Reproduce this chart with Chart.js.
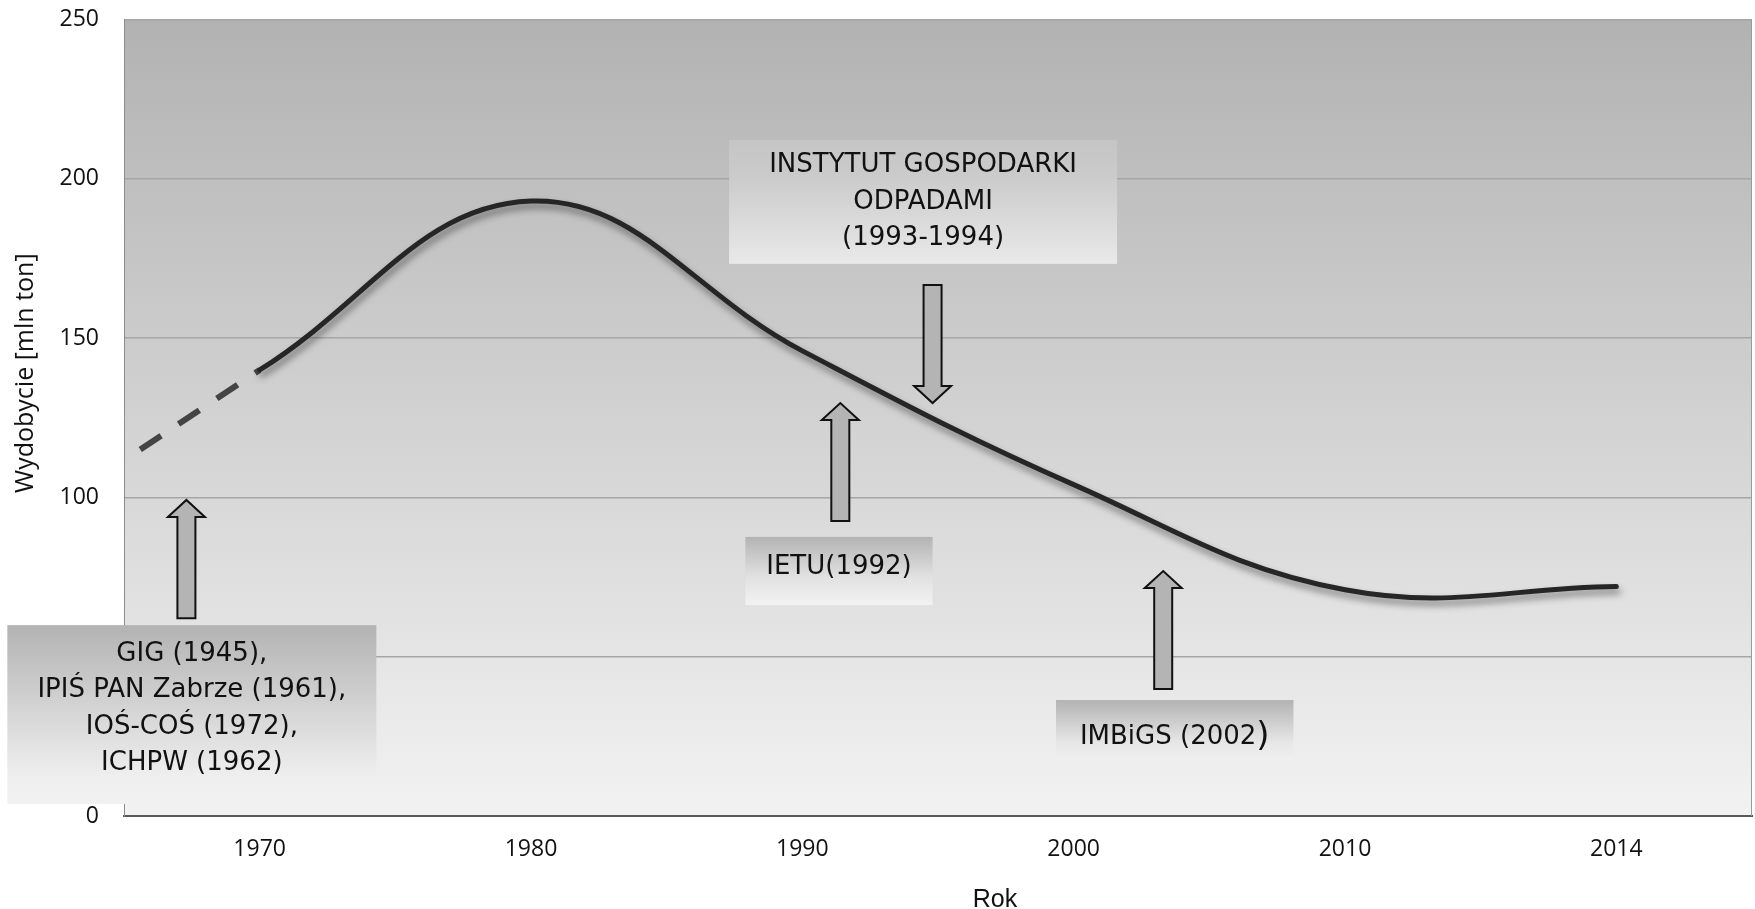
<!DOCTYPE html>
<html lang="pl">
<head>
<meta charset="utf-8">
<title>Wydobycie</title>
<script src="https://cdn.jsdelivr.net/npm/chart.js@4.4.1/dist/chart.umd.min.js"></script>
<style>
  html, body { margin: 0; padding: 0; background: #fff; }
  #wrap { width: 1755px; height: 909px; position: relative; }
</style>
</head>
<body>
<div id="wrap"><canvas id="wykres"></canvas></div>
<script>
// --- DANE ---
const lata = ['1970', '1980', '1990', '2000', '2010', '2014'];
const rokLiczbowo = [1970, 1980, 1990, 2000, 2010, 2014];
const wydobycie = [140, 193, 146, 104, 71, 72];          // mln ton
const lataPrzerywana = [1965.6, 1970];                   // odcinek szacowany (linia przerywana)
const wydobyciePrzerywana = [115, 140];

// --- OPISY I STRZAŁKI (w jednostkach osi: rok / mln ton) ---
// linia = tekst albo lista fragmentów [tekst, rozmiar czcionki]
const opisy = [
    { linie: ['GIG (1945),', 'IPIŚ PAN Zabrze (1961),', 'IOŚ-COŚ (1972),', 'ICHPW (1962)'],
      od: 1960.7, do: 1974.3, gora: 59.9, dol: 3.8, dy: -6,
      gradient: [[0, '#b3b3b3'], [0.85, '#efefef'], [1, '#f1f1f1']] },
    { linie: ['INSTYTUT GOSPODARKI', 'ODPADAMI', '(1993-1994)'],
      od: 1987.3, do: 2001.6, gora: 212.2, dol: 173.3, dy: 0,
      gradient: [[0, '#c5c5c5'], [0.3, '#cbcbcb'], [1, '#e9e9e9']] },
    { linie: ['IETU(1992)'],
      od: 1987.9, do: 1994.8, gora: 87.6, dol: 66.2, dy: -4,
      gradient: [[0, '#b3b3b3'], [0.6, '#e2e2e2'], [1, '#f2f2f2']] },
    { linie: [[['IMBiGS (2002', 26], [')', 34]]],
      od: 1999.35, do: 2008.1, gora: 36.4, dol: 17.6, dy: 7,
      gradient: [[0, '#b3b3b3'], [0.7, '#e6e6e6'], [1, '#f0f0f0']] }
];
const strzalki = [
    { rok: 1967.3, z: 62.1, na: 99.2 },
    { rok: 1994.8, z: 166.7, na: 129.6 },
    { rok: 1991.4, z: 92.6, na: 129.6 },
    { rok: 2003.3, z: 39.9, na: 76.9 }
];

// rok -> pozycja na osi kategorii (równe odstępy między etykietami)
function rokNaPozycje(rok) {
    const n = rokLiczbowo.length;
    if (rok <= rokLiczbowo[0]) return (rok - rokLiczbowo[0]) / (rokLiczbowo[1] - rokLiczbowo[0]);
    for (let i = 1; i < n; i++) {
        if (rok <= rokLiczbowo[i] || i === n - 1) {
            return i - 1 + (rok - rokLiczbowo[i - 1]) / (rokLiczbowo[i] - rokLiczbowo[i - 1]);
        }
    }
}

const FONT_OSI = { family: '"Open Sans", sans-serif', size: 23 };
const FONT_OPISU = '"DejaVu Sans"';

// --- PLUGINY ---
const tloWykresu = {
    id: 'tloWykresu',
    beforeDraw(chart) {
        const { ctx, chartArea: a } = chart;
        const g = ctx.createLinearGradient(0, a.top, 0, a.bottom);
        g.addColorStop(0, '#b2b2b2');
        g.addColorStop(1, '#f2f2f2');
        ctx.save();
        ctx.fillStyle = g;
        ctx.fillRect(a.left, a.top, a.right - a.left, a.bottom - a.top);
        ctx.restore();
    }
};

const cienLinii = {
    id: 'cienLinii',
    beforeDatasetDraw(chart, args) {
        if (args.index !== 0) return;
        const ctx = chart.ctx;
        ctx.save();
        ctx.shadowColor = 'rgba(0,0,0,0.45)';
        ctx.shadowBlur = 7;
        ctx.shadowOffsetX = 2;
        ctx.shadowOffsetY = 5;
    },
    afterDatasetDraw(chart, args) {
        if (args.index === 0) chart.ctx.restore();
    }
};

function rysujLinieTekstu(ctx, linia, cx, y) {
    const czesci = typeof linia === 'string' ? [[linia, 26]] : linia;
    let szer = 0;
    czesci.forEach(([t, r]) => { ctx.font = r + 'px ' + FONT_OPISU; szer += ctx.measureText(t).width; });
    let x = cx - szer / 2;
    ctx.textAlign = 'left';
    czesci.forEach(([t, r]) => {
        ctx.font = r + 'px ' + FONT_OPISU;
        ctx.fillText(t, x, y);
        x += ctx.measureText(t).width;
    });
}

function rysujOpis(ctx, sx, sy, o) {
    const x1 = sx.getPixelForValue(rokNaPozycje(o.od));
    const x2 = sx.getPixelForValue(rokNaPozycje(o.do));
    const y1 = sy.getPixelForValue(o.gora);
    const y2 = sy.getPixelForValue(o.dol);
    const g = ctx.createLinearGradient(0, y1, 0, y2);
    o.gradient.forEach(([s, c]) => g.addColorStop(s, c));
    ctx.fillStyle = g;
    ctx.fillRect(x1, y1, x2 - x1, y2 - y1);

    ctx.fillStyle = '#111';
    ctx.textBaseline = 'middle';
    const cx = (x1 + x2) / 2, cy = (y1 + y2) / 2 + o.dy, lh = 36.5;
    o.linie.forEach((t, i) => rysujLinieTekstu(ctx, t, cx, cy + (i - (o.linie.length - 1) / 2) * lh));
}

function rysujStrzalke(ctx, sx, sy, s) {
    const x = sx.getPixelForValue(rokNaPozycje(s.rok));
    const yz = sy.getPixelForValue(s.z), yn = sy.getPixelForValue(s.na);
    const kier = Math.sign(yn - yz);
    const glowa = 17, trzon = 9, szer = 18.5;
    const yb = yn - kier * glowa;
    ctx.beginPath();
    ctx.moveTo(x - trzon, yz);
    ctx.lineTo(x - trzon, yb);
    ctx.lineTo(x - szer, yb);
    ctx.lineTo(x, yn);
    ctx.lineTo(x + szer, yb);
    ctx.lineTo(x + trzon, yb);
    ctx.lineTo(x + trzon, yz);
    ctx.closePath();
    ctx.fillStyle = '#b4b4b4';
    ctx.fill();
    ctx.lineWidth = 2;
    ctx.lineJoin = 'miter';
    ctx.strokeStyle = '#111';
    ctx.stroke();
}

const adnotacje = {
    id: 'adnotacje',
    afterDraw(chart) {
        const { ctx, chartArea: a, scales } = chart;
        ctx.save();
        // prawa krawędź obszaru wykresu
        ctx.strokeStyle = '#9a9a9a';
        ctx.lineWidth = 1;
        ctx.beginPath();
        ctx.moveTo(a.right - 0.5, a.top);
        ctx.lineTo(a.right - 0.5, a.bottom);
        ctx.stroke();

        opisy.forEach(o => rysujOpis(ctx, scales.x, scales.y, o));
        strzalki.forEach(s => rysujStrzalke(ctx, scales.x, scales.y, s));

        // tytuły osi
        ctx.fillStyle = '#111';
        ctx.textAlign = 'center';
        ctx.font = '25px "Liberation Sans"';
        ctx.textBaseline = 'alphabetic';
        ctx.fillText('Rok', a.left + (a.right - a.left) * 0.535, 907);

        ctx.translate(26, a.top + (a.bottom - a.top) * 0.444);
        ctx.rotate(-Math.PI / 2);
        ctx.font = '25px "Open Sans"';
        ctx.textBaseline = 'middle';
        ctx.fillText('Wydobycie [mln ton]', 0, 0);
        ctx.restore();
    }
};

// --- WYKRES ---
new Chart(document.getElementById('wykres'), {
    type: 'line',
    data: {
        datasets: [{
            data: rokLiczbowo.map((r, i) => ({ x: rokNaPozycje(r), y: wydobycie[i] })),
            borderColor: '#262626',
            borderWidth: 5,
            tension: 0.4,
            pointRadius: 0,
            borderCapStyle: 'round',
            borderJoinStyle: 'round'
        }, {
            data: lataPrzerywana.map((r, i) => ({ x: rokNaPozycje(r), y: wydobyciePrzerywana[i] })),
            borderColor: '#444444',
            borderWidth: 6,
            borderDash: [25, 21],
            tension: 0,
            pointRadius: 0
        }]
    },
    options: {
        responsive: true,
        maintainAspectRatio: false,
        animation: false,
        layout: { padding: { top: 19.5, right: 3, left: 0, bottom: 0 } },
        plugins: { legend: { display: false }, tooltip: { enabled: false } },
        scales: {
            x: {
                type: 'linear',
                min: -0.5,
                max: 5.5,
                afterBuildTicks: s => { s.ticks = lata.map((_, i) => ({ value: i })); },
                afterFit: s => { s.height = 93; s.paddingLeft = 0; s.paddingRight = 0; },
                grid: { display: true, color: 'rgba(0,0,0,0)', drawTicks: false },
                border: { color: '#595959', width: 2 },
                ticks: { callback: v => lata[v], padding: 20, font: FONT_OSI, color: '#111', maxRotation: 0, autoSkip: false }
            },
            y: {
                min: 0,
                max: 250,
                afterFit: s => { s.width = 124; s.paddingTop = 0; s.paddingBottom = 0; },
                grid: { color: '#a6a6a6', lineWidth: 1.5, drawTicks: false },
                border: { color: '#8c8c8c', width: 1 },
                ticks: { stepSize: 50, padding: 25, font: FONT_OSI, color: '#111' }
            }
        }
    },
    plugins: [tloWykresu, cienLinii, adnotacje]
});
</script>
</body>
</html>
